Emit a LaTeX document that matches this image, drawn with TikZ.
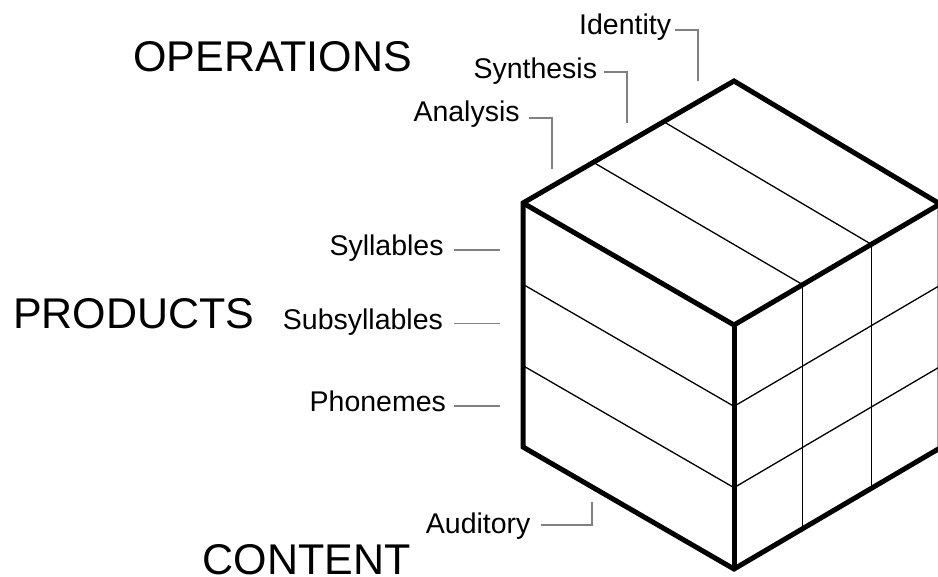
\documentclass[tikz,border=0pt]{standalone}
\usepackage{fontspec}
\setmainfont{Liberation Sans}
\usetikzlibrary{calc}
\definecolor{leadgray}{RGB}{128,128,128}
\begin{document}
\begin{tikzpicture}[x=1pt,y=-1pt,
  big/.style={font=\fontsize{43}{43}\selectfont, inner sep=0pt, anchor=base west},
  small/.style={font=\fontsize{28.5}{28.5}\selectfont, inner sep=0pt, anchor=base west},
  leader/.style={draw=leadgray, line width=1.8pt},
  edge/.style={draw=black, line width=5pt, line join=miter},
  grid/.style={draw=black, line width=1.3pt}]
\useasboundingbox (0,0) rectangle (938,577);
% cube corners
\coordinate (L) at (523,203);
\coordinate (A) at (734,81);
\coordinate (R) at (940,204);
\coordinate (F) at (734,325);
\coordinate (LB) at (523,447);
\coordinate (FB) at (734,569);
\coordinate (RB) at (940,448);
% thin grid lines
\draw[grid] ($(L)!1/3!(A)$) -- ($(F)!1/3!(R)$);
\draw[grid] ($(L)!2/3!(A)$) -- ($(F)!2/3!(R)$);
\draw[grid] ($(F)!1/3!(R)$) -- ($(FB)!1/3!(RB)$);
\draw[grid] ($(F)!2/3!(R)$) -- ($(FB)!2/3!(RB)$);
\draw[grid] ($(L)!1/3!(LB)$) -- ($(F)!1/3!(FB)$) -- ($(R)!1/3!(RB)$);
\draw[grid] ($(L)!2/3!(LB)$) -- ($(F)!2/3!(FB)$) -- ($(R)!2/3!(RB)$);
% thick edges
\draw[edge] (L) -- (A) -- (R) -- (RB) -- (FB) -- (LB) -- cycle;
\draw[edge] (L) -- (F) -- (R);
\draw[edge] (F) -- (FB);
% big labels
\node[big] (ops) at (133,71.7) {OPERATIONS};
\node[big] (prod) at (13,328.3) {PRODUCTS};
\node[big] (cont) at (202.5,574) {CONTENT};
% small labels
\node[small] (ident) at (579,35) {Identity};
\node[small] (synth) at (473.3,79) {Synthesis};
\node[small] (anal) at (413.3,121.7) {Analysis};
\node[small] (syl) at (329.3,256) {Syllables};
\node[small] (subsyl) at (282.7,329.3) {Subsyllables};
\node[small] (phon) at (309.5,411.7) {Phonemes};
\node[small] (aud) at (425.7,533.3) {Auditory};
% leader coordinates
\coordinate (identS) at (674.5,30);
\coordinate (identE) at (698,81);
\coordinate (synthS) at (604,71.7);
\coordinate (synthE) at (627.2,123.3);
\coordinate (analS) at (528.7,117.7);
\coordinate (analE) at (552,169.3);
\coordinate (sylS) at (453.5,250);
\coordinate (sylE) at (500,250);
\coordinate (subS) at (453.5,323.5);
\coordinate (subE) at (500,323.5);
\coordinate (phonS) at (453.5,405.7);
\coordinate (phonE) at (500,405.7);
\coordinate (audS) at (540.5,525);
\coordinate (audE) at (591.8,501.7);
\draw[leader] (identS) -| (identE);
\draw[leader] (synthS) -| (synthE);
\draw[leader] (analS) -| (analE);
\draw[leader] (sylS) -- (sylE);
\draw[leader] (subS) -- (subE);
\draw[leader] (phonS) -- (phonE);
\draw[leader] (audS) -| (audE);
\end{tikzpicture}
\end{document}
